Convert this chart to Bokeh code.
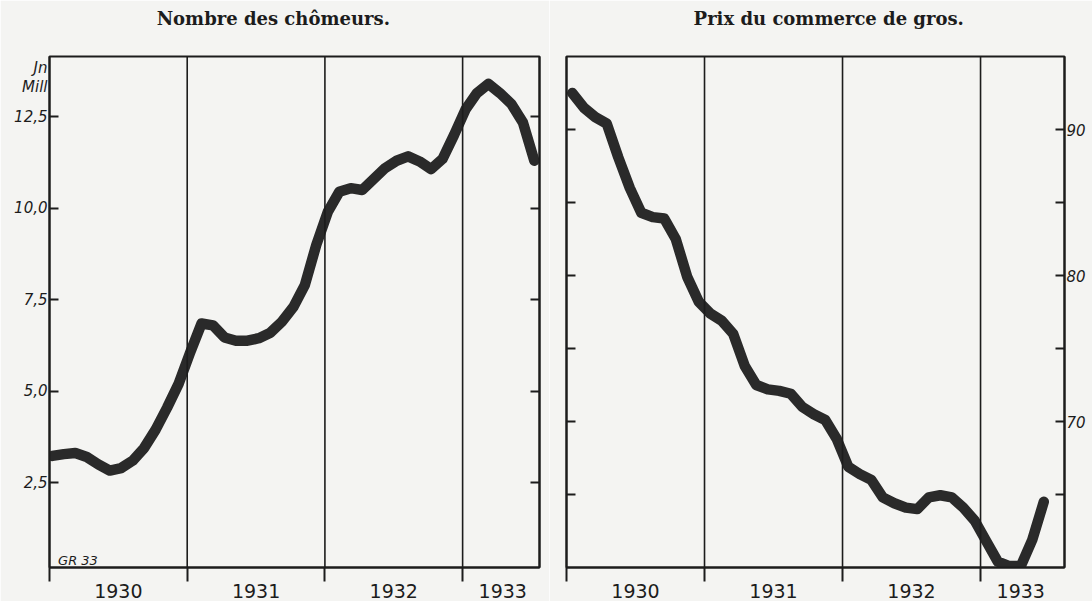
from bokeh.plotting import figure
from bokeh.models import Range1d, LinearAxis, FixedTicker, Span, Label
from bokeh.layouts import row
from bokeh.embed import file_html
from bokeh.resources import INLINE

# ---------------- data ----------------
years = ["1930", "1931", "1932", "1933"]
year_starts = [0, 12, 24, 36]          # month index of January of each year
year_centers = [6, 18, 30, 39.5]       # where the year names are written
months_left = list(range(43))          # Jan 1930 .. Jul 1933
unemployed = [3.23, 3.28, 3.31, 3.20, 3.00, 2.83, 2.90, 3.10, 3.45, 3.95,
              4.55, 5.20, 6.05, 6.85, 6.80, 6.47, 6.38, 6.38, 6.45, 6.60,
              6.90, 7.30, 7.90, 9.00, 9.90, 10.45, 10.55, 10.50, 10.80, 11.10,
              11.30, 11.42, 11.28, 11.07, 11.35, 12.00, 12.70, 13.15, 13.40, 13.15,
              12.85, 12.35, 11.30]
months_right = list(range(42))         # Jan 1930 .. Jun 1933
prices = [92.5, 91.5, 90.85, 90.4, 88.1, 86.0, 84.3, 84.0, 83.9, 82.5,
          79.9, 78.2, 77.4, 76.9, 76.0, 73.8, 72.5, 72.2, 72.1, 71.9,
          71.0, 70.5, 70.1, 68.8, 66.9, 66.4, 66.0, 64.8, 64.4, 64.1,
          64.0, 64.8, 64.95, 64.8, 64.1, 63.2, 61.8, 60.4, 60.1, 60.1,
          61.9, 64.5]
left_ticks = [2.5, 5.0, 7.5, 10.0, 12.5]
left_tick_labels = ["2,5", "5,0", "7,5", "10,0", "12,5"]
right_ticks = [65, 70, 75, 80, 85, 90]
right_label_ticks = [70, 80, 90]
right_tick_labels = ["70", "80", "90"]
title_left = "Nombre des chômeurs."
title_right = "Prix du commerce de gros."
unit_lines = ["Jn", "Mill"]
sign = "GR 33"

# ---------------- style ----------------
BG = "#f4f4f2"
INK = "#1c1c1c"
CURVE = "#2a2a2a"
HAND = "DejaVu Sans"
SERIF = "DejaVu Serif"
H = 601


def base_fig(width, xr, yr, bl, br, bb, title, title_x):
    p = figure(width=width, height=H, x_range=xr, y_range=yr,
               output_backend="svg", toolbar_location=None,
               x_axis_location=None, y_axis_location=None,
               min_border_left=bl, min_border_right=br,
               min_border_top=56, min_border_bottom=bb,
               background_fill_color=BG, border_fill_color=BG,
               outline_line_color=INK, outline_line_width=2)
    p.grid.visible = False
    # heading written above the frame
    tx = LinearAxis(ticker=FixedTicker(ticks=[title_x], minor_ticks=[]),
                    major_label_overrides={title_x: title},
                    major_tick_in=0, major_tick_out=0, minor_tick_line_color=None,
                    major_tick_line_color=None, axis_line_color=None,
                    major_label_text_font=SERIF, major_label_text_font_style="bold",
                    major_label_text_font_size="18px", major_label_text_color=INK,
                    major_label_standoff=28)
    p.add_layout(tx, "above")
    # bottom axis: year names, with year boundary marks running below the frame
    bx = LinearAxis(ticker=FixedTicker(ticks=year_centers, minor_ticks=year_starts),
                    major_label_overrides=dict(zip(year_centers, years)),
                    major_tick_in=0, major_tick_out=0,
                    minor_tick_in=0, minor_tick_out=14, minor_tick_line_width=2,
                    minor_tick_line_color=INK,
                    axis_line_color=INK, axis_line_width=2,
                    major_label_text_font=HAND, major_label_text_font_size="19px",
                    major_label_text_color=INK, major_label_standoff=2)
    p.add_layout(bx, "below")
    for ys in year_starts[1:]:
        p.add_layout(Span(location=ys, dimension="height",
                          line_color=INK, line_width=1.6))
    return p


def y_axis(label_ticks, labels, mark_ticks):
    return LinearAxis(ticker=FixedTicker(ticks=label_ticks, minor_ticks=mark_ticks),
                      major_label_overrides=dict(zip(label_ticks, labels)),
                      major_tick_in=0, major_tick_out=0,
                      minor_tick_in=9, minor_tick_out=0, minor_tick_line_width=2,
                      minor_tick_line_color=INK,
                      axis_line_color=INK, axis_line_width=2,
                      major_label_text_font=HAND,
                      major_label_text_font_style="italic",
                      major_label_text_color=INK,
                      major_label_text_font_size="15px",
                      major_label_standoff=2)


# ---------------- left panel ----------------
L_YMIN, L_YMAX, L_PPU = 0.18, 14.15, 37.0      # px per unit
p1 = base_fig(549, Range1d(0, 42.7), Range1d(L_YMIN, L_YMAX), 49, 10, 28,
              title_left, 19.5)
unit_pos = [L_YMAX - 12 / L_PPU, L_YMAX - 31 / L_PPU]
p1.add_layout(y_axis(left_ticks + unit_pos, left_tick_labels + unit_lines, left_ticks), "left")
p1.add_layout(y_axis([], [], left_ticks), "right")
p1.line([m + 0.25 for m in months_left], unemployed, line_width=10.5,
        line_color=CURVE, line_join="round", line_cap="round")
p1.add_layout(Label(x=0.75, y=L_YMIN + 7 / L_PPU, text=sign, text_align="left",
                    text_baseline="alphabetic", text_font=HAND,
                    text_font_style="italic", text_font_size="13px", text_color=INK))

# ---------------- right panel ----------------
R_YMIN, R_YMAX, R_PPU = 60.0, 95.0, 14.6
p2 = base_fig(543, Range1d(0, 43.3), Range1d(R_YMIN, R_YMAX), 17, 28, 34,
              title_right, 22.8)
p2.add_layout(y_axis(right_label_ticks, right_tick_labels, right_ticks), "right")
p2.add_layout(y_axis([], [], right_ticks), "left")
p2.line([m + 0.5 for m in months_right], prices, line_width=10.5,
        line_color=CURVE, line_join="round", line_cap="round")

layout = row(p1, p2)
open("out.html", "w").write(file_html(layout, INLINE))
